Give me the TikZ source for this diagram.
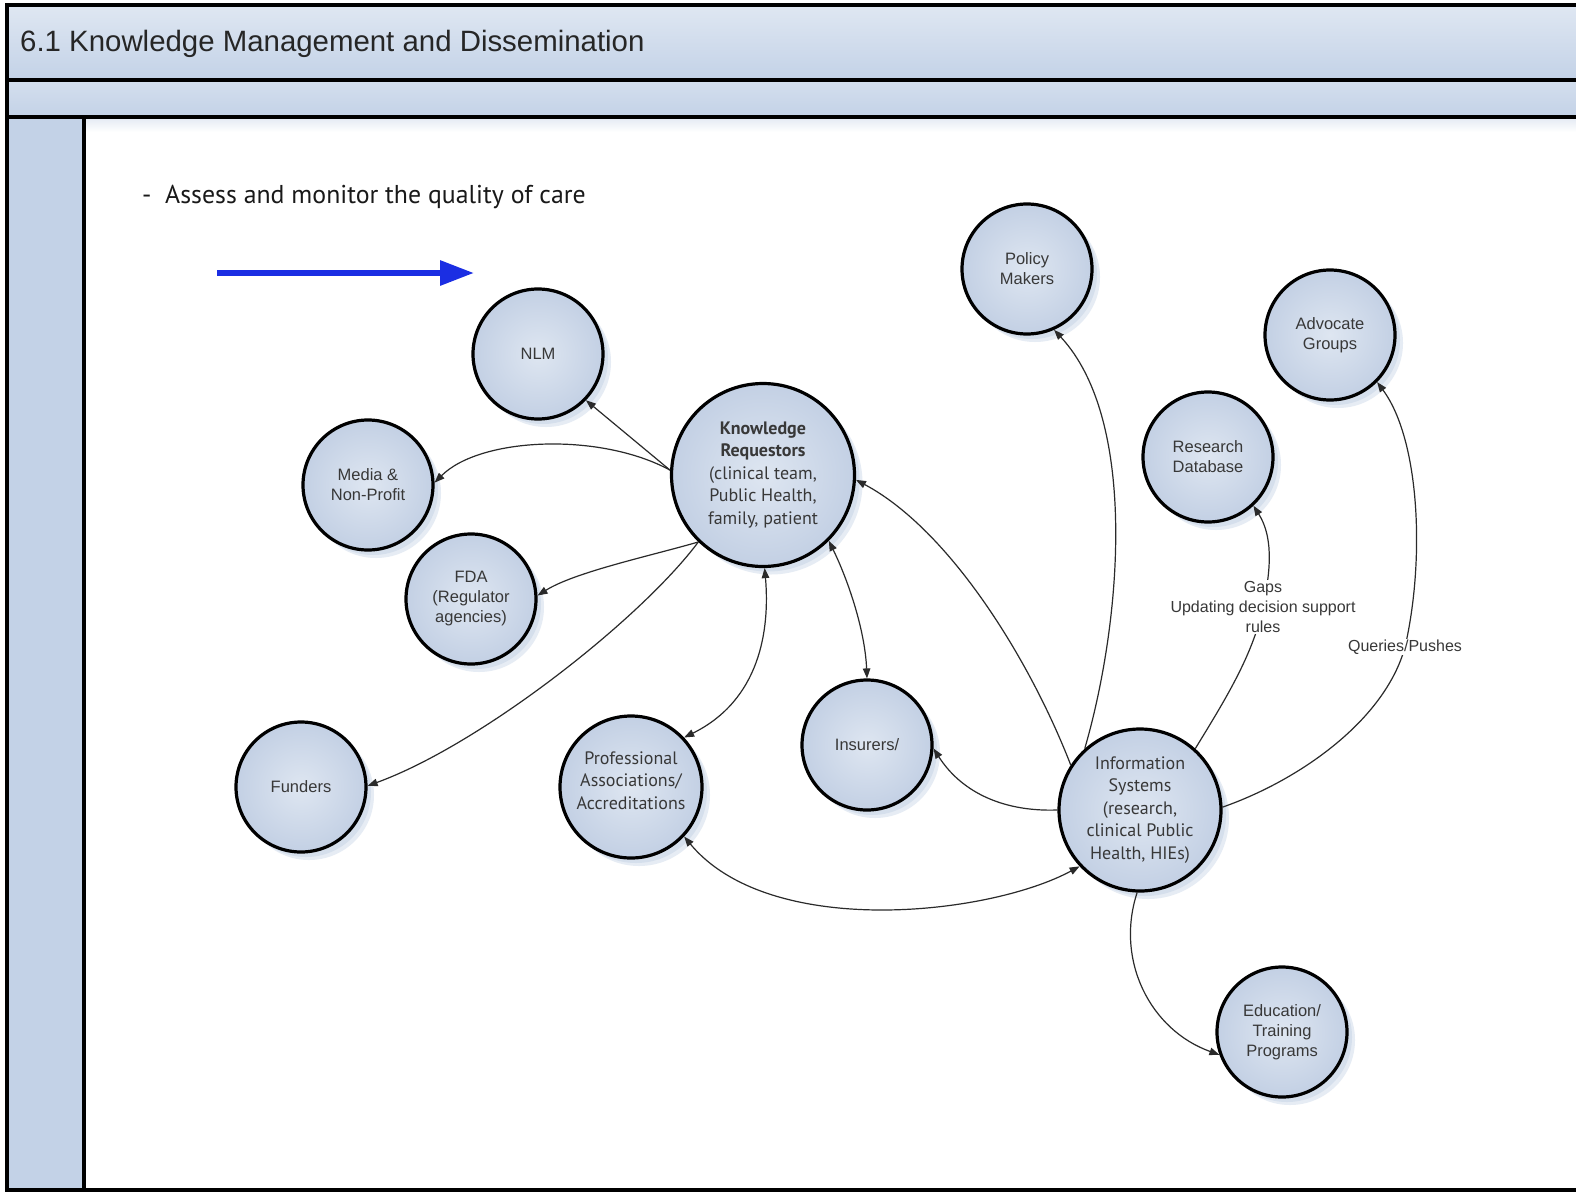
\documentclass[tikz,border=0pt]{standalone}
\usepackage{fontspec}
\setmainfont{Liberation Sans}
\newfontfamily\myr{PT Sans}
\usetikzlibrary{arrows.meta,shadows}

\definecolor{bandlight}{HTML}{DFE7F2}
\definecolor{banddark}{HTML}{C3D2E7}
\definecolor{bubin}{HTML}{DEE6F1}
\definecolor{bubout}{HTML}{C3D0E4}
\definecolor{shadA}{HTML}{E6ECF4}
\definecolor{shadB}{HTML}{D5DFEC}
\definecolor{inkgray}{HTML}{383838}
\definecolor{wire}{HTML}{2A2A2A}
\definecolor{pushblue}{HTML}{1B2EE3}

\begin{document}
\begin{tikzpicture}[x=1pt,y=-1pt,
  bubble/.style={circle,draw=black,line width=3.2pt,minimum size=#1,inner sep=0pt,
    inner color=bubin,outer color=bubout,text=inkgray,align=center,
    general shadow={shadow xshift=8pt,shadow yshift=-8pt,fill=shadA},
    general shadow={shadow xshift=5pt,shadow yshift=-5pt,fill=shadB}},
  arial/.style={font=\fontsize{16.5}{20}\selectfont},
  myriad/.style={font=\myr\fontsize{18}{22.5}\selectfont},
  lbl/.style={fill=white,inner sep=1pt,align=center,text=inkgray,
    font=\fontsize{16}{20}\selectfont},
  link/.style={draw=wire,line width=1.2pt},
  onehead/.style={-{Triangle[length=10pt,width=7.5pt]}},
  twohead/.style={{Triangle[length=10pt,width=7.5pt]}-{Triangle[length=10pt,width=7.5pt]}}]

\useasboundingbox (0,0) rectangle (1576,1194);
\fill[white] (0,0) rectangle (1576,1194);

% swimlane frame
\shade[top color=bandlight,bottom color=banddark] (7,5) rectangle (1576,80);
\shade[top color=bandlight!60!banddark,bottom color=banddark] (7,80) rectangle (1576,117);
\fill[banddark] (7,117) rectangle (84,1190);
\shade[top color=shadA,bottom color=white] (86,119) rectangle (1576,132);
\draw[line width=3.5pt] (1576,5) -- (7,5) -- (7,1190) -- (1576,1190);
\draw[line width=3.5pt] (7,80) -- (1576,80);
\draw[line width=3.5pt] (7,117) -- (1576,117);
\draw[line width=3.5pt] (84,117) -- (84,1190);

\node[anchor=base west,inner sep=0pt,font=\fontsize{29.4}{34}\selectfont,text=black!85] (title) at (20,51)
  {6.1 Knowledge Management and Dissemination};
\node[anchor=base west,inner sep=0pt,font=\myr\fontsize{25.8}{30}\selectfont,text=black!90] (goal) at (142,203)
  {-\ \ Assess and monitor the quality of care};

% direction arrow
\coordinate (flowA) at (217,273);
\coordinate (flowB) at (474,273);
\draw[pushblue,line width=6pt,-{Triangle[length=34pt,width=24pt]}] (flowA) -- (flowB);

% actors
\node[bubble=130pt,arial] (nlm) at (538,354) {NLM};
\node[bubble=130pt,arial] (media) at (368,485) {Media \&\\Non-Profit};
\node[bubble=130pt,arial] (fda) at (471,599) {FDA\\(Regulator\\agencies)};
\node[bubble=130pt,arial] (funders) at (301,787) {Funders};
\node[bubble=183pt,myriad] (kr) at (763,475)
  {\textbf{Knowledge}\\\textbf{Requestors}\\(clinical team,\\Public Health,\\family, patient};
\node[bubble=130pt,arial] (policy) at (1027,269) {Policy\\Makers};
\node[bubble=130pt,arial] (adv) at (1330,335) {Advocate\\Groups};
\node[bubble=130pt,arial] (rd) at (1208,457) {Research\\Database};
\node[bubble=130pt,arial] (ins) at (867,745) {Insurers/};
\node[bubble=142pt,myriad] (prof) at (631,787)
  {\raisebox{5pt}[\height][\depth]{\begin{tabular}{@{}c@{}}Professional\\Associations/\\Accreditations\end{tabular}}};
\node[bubble=162pt,myriad] (is) at (1140,810)
  {Information\\Systems\\(research,\\clinical Public\\Health, HIEs)};
\node[bubble=130pt,arial] (edu) at (1282,1032) {Education/\\Training\\Programs};

% flows out of the knowledge requestors
\draw[link,onehead] (kr.177) -- (nlm.316);
\draw[link,onehead] (kr.177) .. controls (600,432) and (480,437) .. (media.2);
\draw[link,onehead] (kr.226) .. controls (650,556) and (575,572) .. (fda.3);
\draw[link,onehead] (kr.226) .. controls (640,620) and (480,745) .. (funders.1);
\draw[link,twohead] (kr.271) .. controls (770,630) and (760,700) .. (prof.43);
\draw[link,twohead] (kr.315) .. controls (848,580) and (865,630) .. (ins.90);

% flows out of the information systems
\draw[link,onehead] (is.147) .. controls (1030,660) and (950,530) .. (kr.357);
\draw[link,onehead] (is.132) .. controls (1122,620) and (1138,420) .. (policy.294);
\draw[link,onehead] (is.180) .. controls (1000,812) and (960,790) .. (ins.357);
\draw[link,twohead] (prof.317) .. controls (770,940) and (990,915) .. (is.223);
\coordinate (gapsmid) at (1263,607);
\draw[link,onehead] (is.48) .. controls (1225,700) and (1253,655) .. (gapsmid)
  .. controls (1272,565) and (1272,535) .. (rd.313);
\coordinate (querymid) at (1405,647);
\draw[link,onehead] (is.2) .. controls (1300,780) and (1385,720) .. (querymid)
  .. controls (1425,560) and (1420,440) .. (adv.315);
\draw[link,onehead] (is.268) .. controls (1115,960) and (1150,1030) .. (edu.200);

% flow labels
\node[lbl] (gaps) at (gapsmid) {Gaps\\Updating decision support\\rules};
\node[lbl] (query) at (querymid) {Queries/Pushes};
\end{tikzpicture}
\end{document}
